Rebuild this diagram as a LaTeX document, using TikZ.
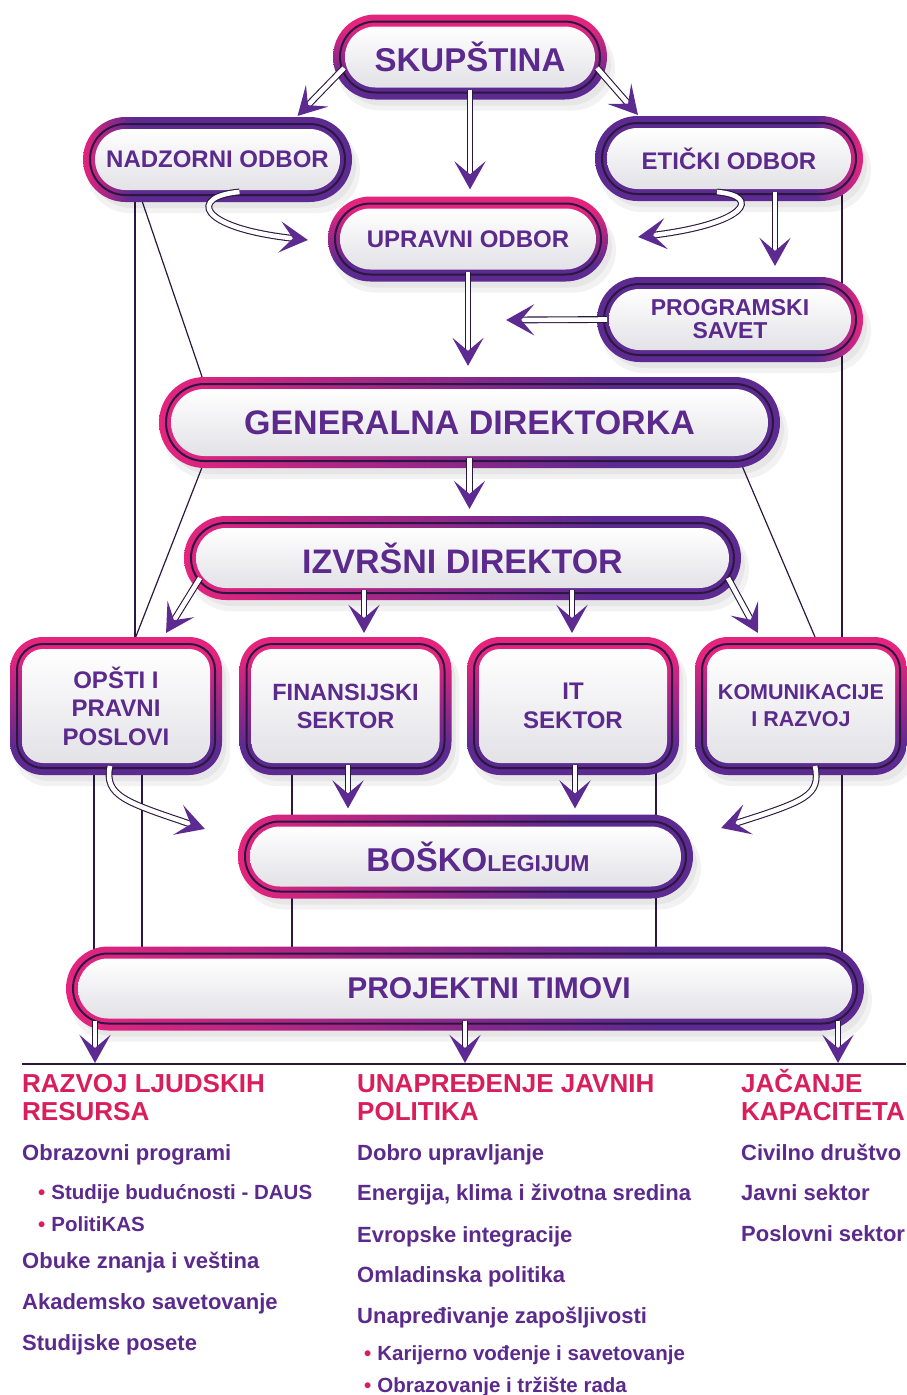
\documentclass[tikz,border=0pt]{standalone}
\usepackage{fontspec}
\setmainfont{Liberation Sans}
\usepackage{tikz}
\usetikzlibrary{positioning, arrows.meta, backgrounds, decorations.markings}

\definecolor{pinkB}{HTML}{E5247E}
\definecolor{purpleB}{HTML}{5C2A90}
\definecolor{inkdark}{HTML}{2B1840}
\definecolor{textpurple}{HTML}{5B2A8C}
\definecolor{headred}{HTML}{D81E5B}
\definecolor{boxgray}{HTML}{E2E2E7}
\definecolor{tipviolet}{HTML}{5D2A92}

% ring shadings (pink -> purple)
\pgfdeclarehorizontalshading{ringLR}{100bp}{color(0bp)=(pinkB); color(25bp)=(pinkB); color(62bp)=(purpleB); color(100bp)=(purpleB)}
\pgfdeclarehorizontalshading{ringL}{100bp}{color(0bp)=(pinkB); color(25bp)=(pinkB); color(34bp)=(purpleB); color(100bp)=(purpleB)}
\pgfdeclarehorizontalshading{ringR}{100bp}{color(0bp)=(purpleB); color(66bp)=(purpleB); color(75bp)=(pinkB); color(100bp)=(pinkB)}
\pgfdeclareverticalshading{ringTB}{100bp}{color(0bp)=(purpleB); color(35bp)=(purpleB); color(68bp)=(pinkB); color(100bp)=(pinkB)}

% frame behind a box: #1 node, #2 outer radius, #3 inner radius, #4 shading
\newcommand{\ringframe}[4]{%
  \fill[black, opacity=0.05, rounded corners=#2] ([shift={(-3pt,-4pt)}]#1.north west) rectangle ([shift={(15pt,-18pt)}]#1.south east);
  \fill[black, opacity=0.05, rounded corners=#2] ([shift={(-1pt,-2pt)}]#1.north west) rectangle ([shift={(11pt,-13pt)}]#1.south east);
  \shade[shading=#4, rounded corners=#2] ([shift={(-7pt,7pt)}]#1.north west) rectangle ([shift={(7pt,-7pt)}]#1.south east);
  \shade[top color=white, bottom color=boxgray, rounded corners=#3] ([shift={(5pt,-5pt)}]#1.north west) rectangle ([shift={(-5pt,5pt)}]#1.south east);
}
\newcommand{\dotitem}[1]{{\fontsize{20.5}{22}\selectfont\textcolor{headred}{•}\hspace{6pt}#1}}
\newcommand{\headstrut}{\rule{0pt}{24pt}}

\begin{document}
\begin{tikzpicture}[
    x=1pt, y=-1pt, % one unit = one pixel of the chart, y going down
    >={Stealth[length=28pt, width=31pt, inset=13pt, color=tipviolet, fill=tipviolet]},
    box/.style={
        rectangle, draw=inkdark, line width=2pt, outer sep=0pt, inner sep=0pt,
        align=center, text=textpurple
    },
    pill/.style={box, rounded corners=35.5pt, minimum height=71pt,
        font=\bfseries\fontsize{24}{25}\selectfont},
    wide/.style={box, rounded corners=35pt, minimum height=70pt,
        font=\bfseries\fontsize{34}{36}\selectfont},
    unit/.style={box, rounded corners=26pt, minimum width=198pt, minimum height=124pt,
        font=\bfseries\fontsize{24}{28.5}\selectfont},
    flow/.style={draw=inkdark, line width=1.1pt, double=white, double distance=4.6pt, shorten >=12pt,
        postaction={decorate, decoration={markings,
            mark=at position 0.999 with {\pgfsetinnerlinewidth{0pt}\arrow{>}}}}},
    link/.style={draw=inkdark, line width=1.2pt},
    rule/.style={draw=inkdark, line width=1.6pt},
    head/.style={anchor=north west, align=left, inner sep=0pt, text=headred,
        font=\bfseries\fontsize{26}{28}\selectfont},
    item/.style={anchor=base west, inner sep=0pt, text=textpurple,
        font=\bfseries\fontsize{22}{24}\selectfont}
]
    \useasboundingbox (0,0) rectangle (906,1395);

    % --- LEVEL 1: Assembly and boards ---
    \node[pill, minimum width=260pt, font=\bfseries\fontsize{33}{34}\selectfont] (Skupstina) at (470,57) {SKUPŠTINA};
    \node[pill, minimum width=255pt] (Nadzorni) at (217.5,159.5) {NADZORNI ODBOR};
    \node[pill, minimum width=254pt] (Eticki) at (729,158.5) {ETIČKI ODBOR};
    \node[pill, minimum width=266pt] (Upravni) at (468,239) {UPRAVNI ODBOR};
    \node[pill, minimum width=252pt, font=\bfseries\fontsize{23}{23}\selectfont] (Programski) at (730,319.5) {PROGRAMSKI\\SAVET};

    % --- LEVEL 2: Management ---
    \node[wide, minimum width=607pt, minimum height=77pt, rounded corners=38.5pt] (GenDir) at (469.5,422.5) {GENERALNA DIREKTORKA};
    \node[wide, minimum width=543pt] (IzvDir) at (462.5,558) {IZVRŠNI DIREKTOR};

    % --- LEVEL 3: Sectors ---
    \node[unit] (Opsti) at (116,706) {OPŠTI I\\PRAVNI\\POSLOVI};
    \node[unit, font=\bfseries\fontsize{23.5}{28}\selectfont] (Finansije) at (345.5,706) {FINANSIJSKI\\SEKTOR};
    \node[unit, font=\bfseries\fontsize{24}{29}\selectfont] (ItSektor) at (573,706) {IT\\SEKTOR};
    \node[unit, font=\bfseries\fontsize{21.5}{27}\selectfont] (Komunikacije) at (801,706) {KOMUNIKACIJE\\I RAZVOJ};

    % --- LEVEL 4: Collegium and teams ---
    \node[wide, minimum width=441pt] (Kolegijum) at (465.5,856.5)
        {\kern25pt{\fontsize{33}{34}\selectfont BOŠKO}{\fontsize{23}{24}\selectfont LEGIJUM}};
    \node[wide, minimum width=784pt, font=\bfseries\fontsize{30}{32}\selectfont] (Timovi) at (465,988.5) {\kern48pt PROJEKTNI TIMOVI};

    % free ends
    \coordinate (pgJoin) at (506,320);
    \coordinate (ruleL) at (22,1064);
    \coordinate (ruleR) at (906,1064);
    \coordinate (hrMark) at (95,1063);
    \coordinate (ppMark) at (465,1063);
    \coordinate (capMark) at (838,1063);

    % --- PROGRAM AREAS (bottom) ---
    \node[head] (hrHead) at (22,1068) {\headstrut RAZVOJ LJUDSKIH\\RESURSA};
    \node[item] (hrEdu) at (22,1160) {Obrazovni programi};
    \node[item] (hrDaus) [below=39pt of hrEdu.base west, anchor=base west, xshift=16pt] {\dotitem{Studije budućnosti - DAUS}};
    \node[item] (hrKas) [below=32pt of hrDaus.base west, anchor=base west] {\dotitem{PolitiKAS}};
    \node[item] (hrSkill) [below=37pt of hrKas.base west, anchor=base west, xshift=-16pt] {Obuke znanja i veština};
    \node[item] (hrAcad) [below=41pt of hrSkill.base west, anchor=base west] {Akademsko savetovanje};
    \node[item] (hrVisit) [below=41pt of hrAcad.base west, anchor=base west] {Studijske posete};

    \node[head] (ppHead) at (357,1068) {\headstrut UNAPREĐENJE JAVNIH\\POLITIKA};
    \node[item] (ppGov) at (357,1160) {Dobro upravljanje};
    \node[item] (ppClim) [below=40pt of ppGov.base west, anchor=base west] {Energija, klima i životna sredina};
    \node[item] (ppEu) [below=42pt of ppClim.base west, anchor=base west] {Evropske integracije};
    \node[item] (ppYouth) [below=40pt of ppEu.base west, anchor=base west] {Omladinska politika};
    \node[item] (ppJobs) [below=41pt of ppYouth.base west, anchor=base west] {Unapređivanje zapošljivosti};
    \node[item] (ppCareer) [below=37pt of ppJobs.base west, anchor=base west, xshift=7pt] {\dotitem{Karijerno vođenje i savetovanje}};
    \node[item] (ppLabour) [below=32pt of ppCareer.base west, anchor=base west] {\dotitem{Obrazovanje i tržište rada}};

    \node[head] (capHead) at (741,1068) {\headstrut JAČANJE\\KAPACITETA};
    \node[item] (capCivil) at (741,1160) {Civilno društvo};
    \node[item] (capPub) [below=40pt of capCivil.base west, anchor=base west] {Javni sektor};
    \node[item] (capBiz) [below=41pt of capPub.base west, anchor=base west] {Poslovni sektor};

    % --- THIN LINKS and FRAMES (behind the boxes) ---
    \begin{scope}[on background layer]
        \draw[link] ([xshift=-82.5pt]Nadzorni.south) -- ([xshift=19pt]Opsti.north);
        \draw[link] ([xshift=-77.5pt]Nadzorni.south) -- ([xshift=-265pt]GenDir.north);
        \draw[link] ([xshift=-265pt]GenDir.south) -- ([xshift=17pt]Opsti.north);
        \draw[link] ([xshift=270.5pt]GenDir.south) -- ([xshift=17pt]Komunikacije.north);
        \draw[link] ([xshift=113pt]Eticki.south) -- ([xshift=41pt]Komunikacije.north);
        \draw[link] ([xshift=-22pt]Opsti.south) -- ([xshift=-371pt]Timovi.north);
        \draw[link] ([xshift=26pt]Opsti.south) -- ([xshift=-323pt]Timovi.north);
        \draw[link] ([xshift=-53.5pt]Finansije.south) -- ([xshift=-173pt]Timovi.north);
        \draw[link] ([xshift=83pt]ItSektor.south) -- ([xshift=191pt]Timovi.north);
        \draw[link] ([xshift=41pt]Komunikacije.south) -- ([xshift=377pt]Timovi.north);

        \ringframe{Skupstina}{42.5pt}{30.5pt}{ringTB}
        \ringframe{Nadzorni}{42.5pt}{30.5pt}{ringL}
        \ringframe{Eticki}{42.5pt}{30.5pt}{ringR}
        \ringframe{Upravni}{42.5pt}{30.5pt}{ringTB}
        \ringframe{Programski}{42.5pt}{30.5pt}{ringR}
        \ringframe{GenDir}{45.5pt}{33.5pt}{ringLR}
        \ringframe{IzvDir}{42pt}{30pt}{ringLR}
        \ringframe{Opsti}{33pt}{21pt}{ringTB}
        \ringframe{Finansije}{33pt}{21pt}{ringTB}
        \ringframe{ItSektor}{33pt}{21pt}{ringTB}
        \ringframe{Komunikacije}{33pt}{21pt}{ringTB}
        \ringframe{Kolegijum}{42pt}{30pt}{ringLR}
        \ringframe{Timovi}{42pt}{30pt}{ringLR}
    \end{scope}

    % --- EDGES (Arrows) ---
    \draw[flow] ([shift={(4pt,-11pt)}]Skupstina.west) -- ([shift={(80pt,8pt)}]Nadzorni.north);
    \draw[flow] ([yshift=3pt]Skupstina.south) -- ([shift={(2pt,14pt)}]Upravni.north);
    \draw[flow] ([shift={(-3pt,-11pt)}]Skupstina.east) -- ([shift={(-91pt,8pt)}]Eticki.north);

    \draw[flow] ([shift={(22pt,3pt)}]Nadzorni.south) .. controls +(-50pt,-4pt) and +(-113pt,12pt) .. ([shift={(-27pt,-1pt)}]Upravni.west);
    \draw[flow] ([shift={(-12pt,2pt)}]Eticki.south) .. controls +(45pt,-4pt) and +(110pt,13pt) .. ([shift={(37pt,2pt)}]Upravni.east);
    \draw[flow] ([shift={(46pt,2pt)}]Eticki.south) -- ([shift={(45pt,18pt)}]Programski.north);

    \draw[flow] ([yshift=3pt]Upravni.south) -- ([shift={(-1.5pt,18pt)}]GenDir.north);
    \draw[flow] ([xshift=3pt]Programski.west) -- (pgJoin);
    \draw[flow] ([yshift=3pt]GenDir.south) -- ([shift={(7pt,14pt)}]IzvDir.north);

    % Management -> sectors
    \draw[flow] ([shift={(9pt,-20pt)}]IzvDir.west) -- ([shift={(50pt,11pt)}]Opsti.north);
    \draw[flow] ([shift={(-98.5pt,3pt)}]IzvDir.south) -- ([shift={(18.5pt,11pt)}]Finansije.north);
    \draw[flow] ([shift={(109.5pt,3pt)}]IzvDir.south) -- ([shift={(-1pt,11pt)}]ItSektor.north);
    \draw[flow] ([shift={(-6pt,-20pt)}]IzvDir.east) -- ([shift={(-43pt,11pt)}]Komunikacije.north);

    % Sectors -> collegium
    \draw[flow] ([shift={(-6pt,2pt)}]Opsti.south) .. controls +(-6pt,-30pt) and +(-80pt,27pt) .. ([shift={(-40pt,27.5pt)}]Kolegijum.west);
    \draw[flow] ([shift={(2.5pt,3pt)}]Finansije.south) -- ([shift={(-117.5pt,13pt)}]Kolegijum.north);
    \draw[flow] ([shift={(2pt,3pt)}]ItSektor.south) -- ([shift={(109.5pt,13pt)}]Kolegijum.north);
    \draw[flow] ([shift={(14pt,2pt)}]Komunikacije.south) .. controls +(6pt,-30pt) and +(85pt,27pt) .. ([shift={(35pt,28.5pt)}]Kolegijum.east);

    % Teams -> program areas
    \draw[rule] (ruleL) -- (ruleR);
    \draw[flow] ([shift={(-370pt,3pt)}]Timovi.south) -- (hrMark);
    \draw[flow] ([yshift=3pt]Timovi.south) -- (ppMark);
    \draw[flow] ([shift={(373pt,3pt)}]Timovi.south) -- (capMark);

\end{tikzpicture}
\end{document}
